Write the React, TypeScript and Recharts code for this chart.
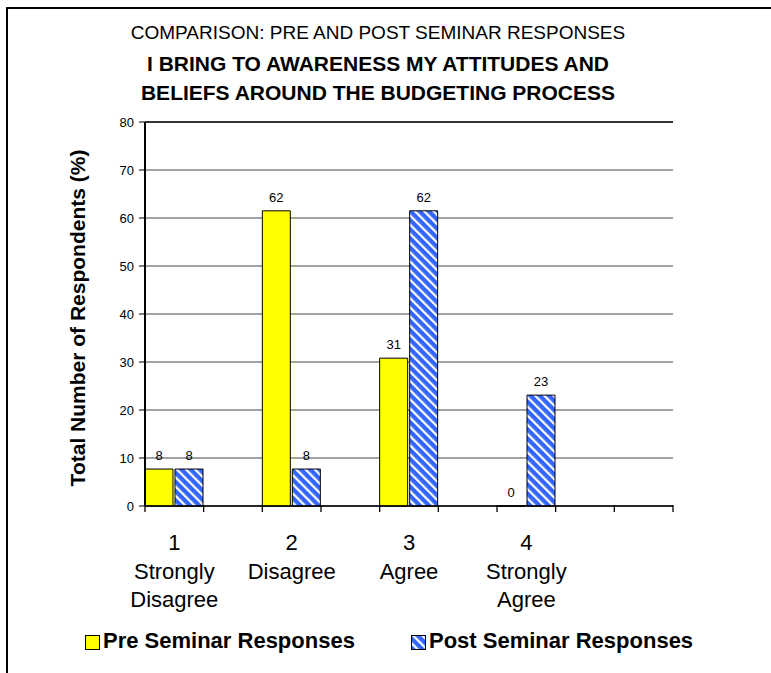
import React from 'react';
import { BarChart, Bar, XAxis, YAxis, CartesianGrid, LabelList, ReferenceLine, Legend } from 'recharts';

const categories = ['1\nStrongly\nDisagree', '', '2\nDisagree', '', '3\nAgree', '', '4\nStrongly\nAgree', '', ''];
const preValues: (number | null)[] = [7.7, null, 61.5, null, 30.8, null, 0, null, null];
const postValues: (number | null)[] = [7.7, null, 7.7, null, 61.5, null, 23.1, null, null];
const yTicks = [0, 10, 20, 30, 40, 50, 60, 70, 80];
const titleLines = ['COMPARISON: PRE AND POST SEMINAR RESPONSES', 'I BRING TO AWARENESS MY ATTITUDES AND', 'BELIEFS AROUND THE BUDGETING PROCESS'];
const seriesNames = ['Pre Seminar Responses', 'Post Seminar Responses'];
const yAxisTitle = 'Total Number of Respondents (%)';

const data = categories.map((c, i) => ({ key: 'c' + i, cat: c, pre: preValues[i], post: postValues[i] }));

const FONT = '"Liberation Sans", Arial, Helvetica, sans-serif';
const YELLOW = '#FFFF00';
const BLUE = '#3366FF';

const fmt = (v: any) => (v === null || v === undefined ? '' : String(Math.round(Number(v))));

const CatTick = (props: any) => {
  const { x, y, payload, visibleTicksCount } = props;
  const half = typeof payload.offset === 'number' ? payload.offset : 0;
  const lines = String(payload.value || '').split('\n').filter((s) => s.length > 0);
  const isLast = typeof visibleTicksCount === 'number' && payload.index === visibleTicksCount - 1;
  return (
    <g>
      {half > 0 && <line x1={x - half} x2={x - half} y1={y - 1} y2={y + 6} stroke="#000" strokeWidth={1.3} />}
      {half > 0 && isLast && <line x1={x + half} x2={x + half} y1={y - 1} y2={y + 6} stroke="#000" strokeWidth={1.3} />}
      {lines.length > 0 && (
        <text x={x} y={y} textAnchor="middle" fontSize={22} fontFamily={FONT} fill="#000">
          {lines.map((l, i) => (
            <tspan key={i} x={x} dy={i === 0 ? 44 : 28.5}>
              {l}
            </tspan>
          ))}
        </text>
      )}
    </g>
  );
};

const StripeDefs = ({ id }: { id: string }) => (
  <defs>
    <pattern id={id} patternUnits="userSpaceOnUse" width="6.5" height="6.5" patternTransform="rotate(-45)">
      <rect x="0" y="0" width="6.5" height="6.5" fill={BLUE} />
      <rect x="0" y="0" width="2.2" height="6.5" fill="#FFFFFF" />
    </pattern>
  </defs>
);

const LegendContent = () => (
  <div style={{ position: 'relative', width: 771, height: 30, fontFamily: FONT, fontWeight: 'bold', fontSize: 22 }}>
    <div style={{ position: 'absolute', left: 85, top: 8, width: 13, height: 13, background: YELLOW, border: '1px solid #000' }} />
    <span style={{ position: 'absolute', left: 103, top: 1, lineHeight: '26px', whiteSpace: 'nowrap' }}>{seriesNames[0]}</span>
    <svg style={{ position: 'absolute', left: 411, top: 8 }} width={15} height={15}>
      <StripeDefs id="legendStripes" />
      <rect x={0.5} y={0.5} width={14} height={14} fill="url(#legendStripes)" stroke="#000" strokeWidth={1} />
    </svg>
    <span style={{ position: 'absolute', left: 429, top: 1, lineHeight: '26px', whiteSpace: 'nowrap' }}>{seriesNames[1]}</span>
  </div>
);

const zeroMin = (v: any) => (v === 0 ? 0.01 : 0);

export default function App() {
  return (
    <div style={{ position: 'fixed', left: 0, top: 0, width: 771, height: 673, overflow: 'hidden', background: '#fff' }}>
      <div style={{ position: 'absolute', left: 6, top: 7, width: 900, height: 900, borderLeft: '2px solid #000', borderTop: '2px solid #000' }} />
      <svg style={{ position: 'absolute', left: 0, top: 0 }} width={771} height={120}>
        <text x={378} y={32} textAnchor="middle" dominantBaseline="central" fontSize={19} fontFamily={FONT} fill="#000">
          {titleLines[0]}
        </text>
        <text x={378} y={63} textAnchor="middle" dominantBaseline="central" fontSize={21} fontWeight="bold" fontFamily={FONT} fill="#000">
          {titleLines[1]}
        </text>
        <text x={378} y={92} textAnchor="middle" dominantBaseline="central" fontSize={21} fontWeight="bold" fontFamily={FONT} fill="#000">
          {titleLines[2]}
        </text>
      </svg>
      <div style={{ position: 'absolute', left: 0, top: 0 }}>
        <BarChart
          width={771}
          height={673}
          data={data}
          margin={{ top: 122, right: 98, bottom: 136, left: 0 }}
          barCategoryGap={0}
          barGap={2}
        >
          <StripeDefs id="postStripes" />
          <CartesianGrid xAxisId="cat" yAxisId="l" vertical={false} stroke="#444" strokeWidth={1} />
          <XAxis
            xAxisId="cat"
            dataKey="cat"
            type="category"
            height={1}
            interval={0}
            tickLine={false}
            tickSize={0}
            tickMargin={0}
            axisLine={{ stroke: '#000', strokeWidth: 1.5 }}
            tick={CatTick}
          />
          <YAxis
            yAxisId="l"
            width={145}
            domain={[0, 80]}
            ticks={yTicks}
            interval={0}
            axisLine={{ stroke: '#000', strokeWidth: 2 }}
            tickLine={{ stroke: '#000' }}
            tickSize={6}
            tickMargin={5}
            tick={{ fontSize: 13, fontFamily: FONT, fill: '#000' }}
            label={{
              value: yAxisTitle,
              angle: -90,
              position: 'center',
              dx: 5,
              dy: 4,
              style: { fontSize: 21, fontWeight: 'bold', fontFamily: FONT, fill: '#000', textAnchor: 'middle' },
            }}
          />
          <YAxis
            yAxisId="r"
            orientation="right"
            width={0}
            domain={[0, 80]}
            tick={false}
            tickLine={false}
            axisLine={{ stroke: '#777', strokeWidth: 2 }}
          />
          <ReferenceLine yAxisId="l" xAxisId="cat" y={80} stroke="#333" strokeWidth={2} />
          <Bar xAxisId="cat" yAxisId="l" dataKey="pre" name={seriesNames[0]} fill={YELLOW} stroke="#000" strokeWidth={1} minPointSize={zeroMin} isAnimationActive={false}>
            <LabelList dataKey="pre" position="top" offset={9} fontSize={13} fontFamily={FONT} fill="#000" formatter={fmt} />
          </Bar>
          <Bar xAxisId="cat" yAxisId="l" dataKey="post" name={seriesNames[1]} fill="url(#postStripes)" stroke="#000" strokeWidth={1} isAnimationActive={false}>
            <LabelList dataKey="post" position="top" offset={9} fontSize={13} fontFamily={FONT} fill="#000" formatter={fmt} />
          </Bar>
          <Legend content={LegendContent} wrapperStyle={{ position: 'absolute', left: 0, top: 627, width: 771 }} />
        </BarChart>
      </div>
    </div>
  );
}
